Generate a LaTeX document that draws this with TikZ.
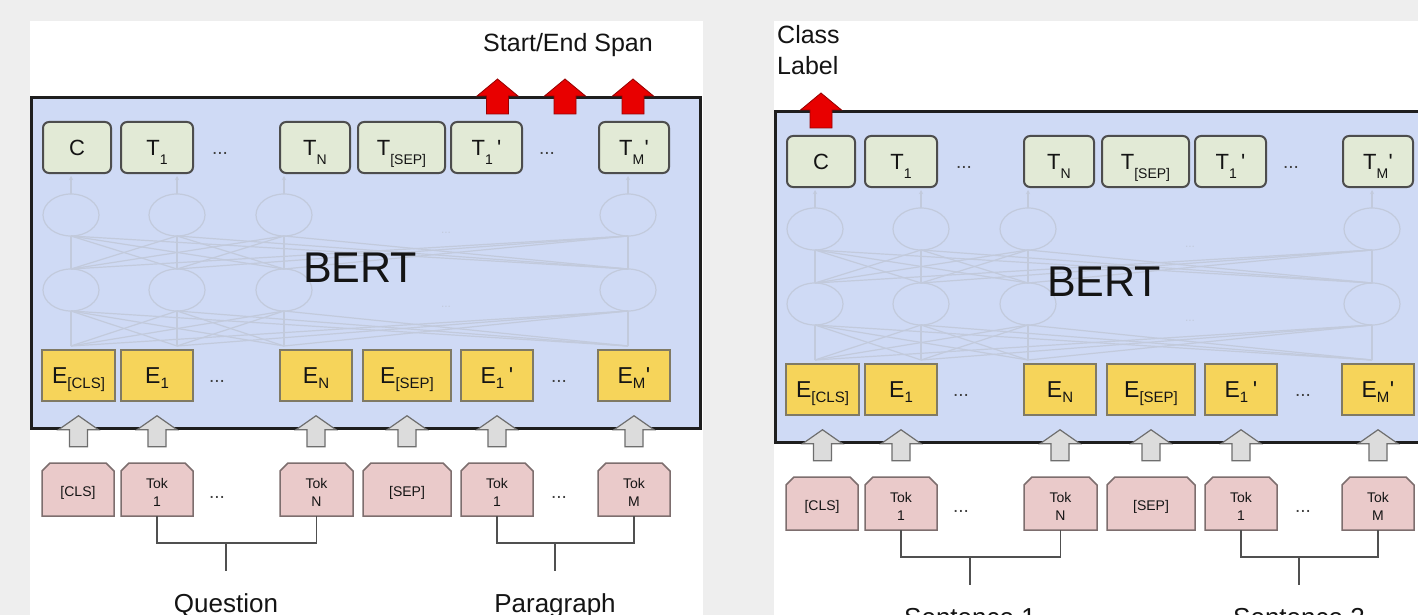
\documentclass[tikz,border=0pt]{standalone}
\usepackage{fontspec}
\setmainfont{Liberation Sans}
\usetikzlibrary{calc,arrows.meta}
\definecolor{bgc}{RGB}{238,238,238}
\definecolor{bertfill}{RGB}{207,218,245}
\definecolor{bertline}{RGB}{30,30,30}
\definecolor{tfill}{RGB}{226,234,214}
\definecolor{tline}{RGB}{77,77,77}
\definecolor{efill}{RGB}{246,212,90}
\definecolor{eline}{RGB}{128,122,100}
\definecolor{kfill}{RGB}{234,202,202}
\definecolor{kline}{RGB}{125,110,110}
\definecolor{redf}{RGB}{232,0,0}
\definecolor{redl}{RGB}{150,0,0}
\definecolor{garf}{RGB}{220,220,220}
\definecolor{garl}{RGB}{110,110,110}
\definecolor{meshc}{RGB}{194,202,220}
\definecolor{txt}{RGB}{20,20,20}
\definecolor{brkc}{RGB}{80,80,80}

\newcommand\fs[1]{\fontsize{#1}{#1}\selectfont}
\newcommand\subT[1]{\raisebox{-9pt}[0pt][0pt]{\fs{14}#1}}
\newcommand\subTq[1]{\rlap{\raisebox{-9pt}[0pt][0pt]{\fs{14}#1}}\hspace{12pt}\textquotesingle}
\newcommand\subE[1]{\raisebox{-5.5pt}[0pt][0pt]{\fs{15}#1}}
\newcommand\subEq[1]{\rlap{\raisebox{-5.5pt}[0pt][0pt]{\fs{15}#1}}\hspace{13pt}\textquotesingle}

\tikzset{
 bertbox/.style={draw=bertline, line width=3pt, fill=bertfill},
 tbox/.style={draw=tline, line width=2pt, fill=tfill, rounded corners=6pt, minimum height=51pt, inner sep=0pt, font=\fs{22}, text=txt},
 ebox/.style={draw=eline, line width=1.5pt, fill=efill, minimum height=51pt, inner sep=0pt, font=\fs{23}, text=txt},
 tokshape/.style={draw=kline, line width=1.5pt, fill=kfill},
 toktext/.style={minimum height=47pt, inner sep=0pt, font=\fontsize{14}{18}\selectfont, align=center, text=txt},
 dotsn/.style={font=\fs{19}, text=black!75, inner sep=0pt},
 mesh/.style={draw=meshc, line width=1.2pt},
 meshdots/.style={font=\fs{12}, text=meshc, inner sep=0pt},
 garr/.style={draw=garl, line width=1.2pt, fill=garf, line join=miter},
 rarr/.style={draw=redl, line width=0.8pt, fill=redf},
 brk/.style={draw=brkc, line width=1.5pt},
 lbl/.style={font=\fs{26}, text=txt, inner sep=0pt},
}

\newcommand\tb[4]{\node[tbox, minimum width={#3-#2}] (#1) at ({(#2+#3)/2},147.5) {#4};}
\newcommand\eb[4]{\node[ebox, minimum width={#3-#2}] (#1) at ({(#2+#3)/2},375.5) {#4};}
\newcommand\kb[4]{\draw[tokshape] (#2,516) -- (#2,471) -- ({#2+8},463) -- ({#3-8},463) -- (#3,471) -- (#3,516) -- cycle;
 \node[toktext, minimum width={#3-#2}] (#1) at ({(#2+#3)/2},492.5) {#4};}
\newcommand\garrow[1]{\draw[garr] ($(#1.south)+(-9,45)$) -- ($(#1.south)+(-9,28)$) -- ($(#1.south)+(-20,28)$) -- ($(#1.south)+(0,14)$) -- ($(#1.south)+(20,28)$) -- ($(#1.south)+(9,28)$) -- ($(#1.south)+(9,45)$) -- cycle;}
\newcommand\redarrow[1]{\draw[rarr] ($(#1)+(-11,-7)$) -- ($(#1)+(-11,-25)$) -- ($(#1)+(-20.5,-25)$) -- ($(#1)+(0,-42)$) -- ($(#1)+(20.5,-25)$) -- ($(#1)+(11,-25)$) -- ($(#1)+(11,-7)$) -- cycle;}

\newcommand\panel[1]{%
 \draw[bertbox] (31,97.5) rectangle (700,428);
 \foreach \a in {71,177,284,628}{%
   \draw[mesh] (\a,215) ellipse (28pt and 21pt);
   \draw[mesh] (\a,290) ellipse (28pt and 21pt);
   \draw[mesh,-{Stealth[length=4pt,width=4pt]}] (\a,194) -- (\a,176);
   \foreach \b in {71,177,284,628}{%
     \draw[mesh] (\a,269) -- (\b,236);
     \draw[mesh] (\a,346) -- (\b,311);
   }
 }
 \node[meshdots] (#1md1) at (446,233) {...};
 \node[meshdots] (#1md2) at (446,307) {...};
 \node[font=\fs{43}, text=txt, inner sep=0pt] (#1bert) at (360,268) {BERT};
 % T row
 \tb{#1tc}{43}{111}{C}
 \tb{#1t1}{121}{193}{T\subT{1}}
 \tb{#1tN}{280}{350}{T\subT{N}}
 \tb{#1tS}{358}{445}{T\subT{[SEP]}}
 \tb{#1t1p}{451}{522}{T\subTq{1}}
 \tb{#1tMp}{599}{669}{T\subTq{M}}
 \node[dotsn] (#1td1) at (220,153) {...};
 \node[dotsn] (#1td2) at (547,153) {...};
 % E row
 \eb{#1ec}{42}{115}{E\subE{[CLS]}}
 \eb{#1e1}{121}{193}{E\subE{1}}
 \eb{#1eN}{280}{352}{E\subE{N}}
 \eb{#1eS}{363}{451}{E\subE{[SEP]}}
 \eb{#1e1p}{461}{533}{E\subEq{1}}
 \eb{#1eMp}{598}{670}{E\subEq{M}}
 \node[dotsn] (#1ed1) at (217,381) {...};
 \node[dotsn] (#1ed2) at (559,381) {...};
 % gray arrows
 \garrow{#1ec}\garrow{#1e1}\garrow{#1eN}\garrow{#1eS}\garrow{#1e1p}\garrow{#1eMp}
 % tokens
 \kb{#1kc}{42}{114}{[CLS]}
 \kb{#1k1}{121}{193}{Tok\\1}
 \kb{#1kN}{280}{353}{Tok\\N}
 \kb{#1kS}{363}{451}{[SEP]}
 \kb{#1k1p}{461}{533}{Tok\\1}
 \kb{#1kMp}{598}{670}{Tok\\M}
 \node[dotsn] (#1kd1) at (217,497) {...};
 \node[dotsn] (#1kd2) at (559,497) {...};
 % brackets
 \coordinate (#1qj) at (226,543);
 \coordinate (#1qe) at (226,571);
 \coordinate (#1pj) at (555,543);
 \coordinate (#1pe) at (555,571);
 \draw[brk] (#1k1.south) |- (#1qj) -| (#1kN.south);
 \draw[brk] (#1qj) -- (#1qe);
 \draw[brk] (#1k1p.south) |- (#1pj) -| (#1kMp.south);
 \draw[brk] (#1pj) -- (#1pe);
}

\begin{document}
\begin{tikzpicture}[x=1pt,y=-1pt]
\useasboundingbox (0,0) rectangle (1418,615);
\clip (0,0) rectangle (1418,615);
\fill[bgc] (0,0) rectangle (1418,615);
\fill[white] (30,21) rectangle (703,615);
\fill[white] (774,21) rectangle (1450,615);

% left panel
\panel{L}
\coordinate (ra1) at (497.5,0 |- Lt1p.north);
\coordinate (ra2) at (565,0 |- Lt1p.north);
\coordinate (ra3) at (633,0 |- LtMp.north);
\redarrow{ra1}\redarrow{ra2}\redarrow{ra3}
\node[lbl, font=\fs{25}, anchor=base] (span) at (568,52) {Start/End Span};
\node[lbl, anchor=base] (question) at (226,612) {Question};
\node[lbl, anchor=base] (paragraph) at (555,612) {Paragraph};

% right panel
\begin{scope}[shift={(744,14)}]
\panel{R}
\end{scope}
\redarrow{Rtc.north}
\node[lbl, font=\fontsize{25}{31}\selectfont, anchor=north west, align=left] (classlabel) at (777,25) {Class\\Label};
\node[lbl, anchor=base] (sent1) at (970,626) {Sentence 1};
\node[lbl, anchor=base] (sent2) at (1299,626) {Sentence 2};
\end{tikzpicture}
\end{document}
